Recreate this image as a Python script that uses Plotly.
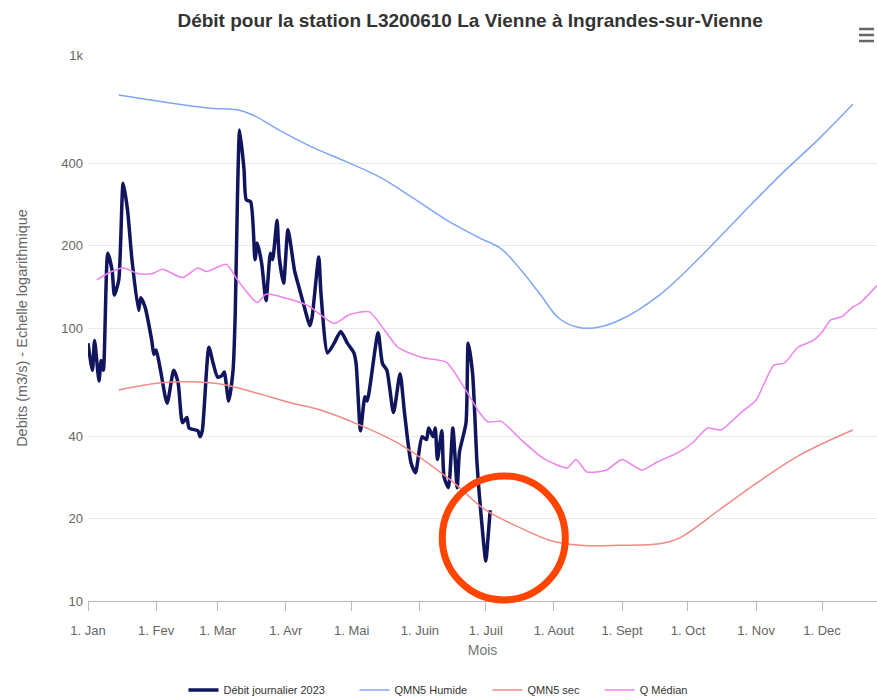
import pandas as pd
import plotly.graph_objects as go

# jour de l'annee (0 = 1er janvier) et debits en m3/s
jours_2023 = [0, 2, 3, 5, 6, 7, 9, 11, 12, 14, 16, 18, 20, 23, 24, 26, 29, 30, 31, 33,
              36, 39, 41, 43, 45, 46, 50, 51, 52, 55, 57, 59, 61, 62, 64, 66, 67, 68, 69, 71,
              72, 74, 76, 77, 79, 81, 83, 84, 86, 87, 89, 91, 94, 96, 98, 101, 102, 105, 106, 109,
              112, 115, 118, 121, 122, 124, 126, 127, 132, 134, 136, 139, 142, 144, 147, 149, 152, 154, 155, 157,
              158, 159, 161, 162, 164, 166, 168, 169, 172, 173, 175, 177, 179, 181, 182, 183]
debit_2023 = [88, 70, 90, 64, 76, 70, 188, 162, 132, 150, 339, 270, 178, 116, 129, 119, 90, 80, 83, 70,
              53, 70, 63, 45, 47, 43, 42, 40, 42, 85, 74, 66, 67, 69, 54, 70, 113, 300, 531, 380,
              295, 290, 178, 205, 173, 126, 188, 178, 248, 182, 146, 229, 162, 141, 123, 102, 110, 182, 134, 81,
              88, 97, 88, 81, 74, 42, 56, 54, 96, 74, 70, 49, 68, 49, 32, 29.5, 40, 39, 43, 40,
              43, 33, 42, 28.5, 26, 43, 26, 35, 45, 88, 68, 32, 20, 14, 17, 21.5]

jours_humide = [14, 54, 68, 75, 87, 102, 118, 133, 148, 163, 178, 188, 197, 206, 214, 222, 230, 242, 260, 278,
                297, 315, 333, 348]
qmn5_humide = [713, 640, 630, 603, 531, 460, 405, 356, 299, 249, 214, 195, 163, 132, 109, 101, 100, 107, 132, 180,
               259, 363, 497, 660]

jours_sec = [14, 33, 48, 62, 75, 93, 106, 124, 142, 165, 181, 197, 210, 224, 242, 260, 269, 287, 305, 324, 348]
qmn5_sec = [59.3, 63, 63.5, 62, 58.3, 53, 50, 44, 37.5, 27.7, 21.5, 18.5, 16.7, 16.0, 16, 16.2, 17, 21.5, 27.3, 34.3,
            42.3]

jours_median = [4, 10, 16, 23, 29, 34, 43, 50, 54, 63, 68, 77, 81, 91, 100, 112, 119, 128, 141, 152,
                163, 172, 178, 182, 188, 197, 207, 218, 222, 227, 236, 243, 252, 259, 268, 275, 282, 288, 297, 304,
                312, 317, 323, 330, 334, 338, 343, 348, 351, 359]
q_median = [150, 160, 166, 158, 158, 164, 153, 166, 161, 171, 150, 124, 133, 128, 121, 104, 112, 114.6, 85, 78,
            75, 59, 49.2, 45.3, 45.5, 39, 33.4, 30.7, 33, 29.7, 30.2, 33, 30.2, 32.3, 34.8, 37.9, 43, 42.3, 48.9, 54.5,
            73, 74.5, 85, 90, 96.7, 107, 110, 119.5, 123, 143]

mois_ticks = ["2023-01-01", "2023-02-01", "2023-03-01", "2023-04-01", "2023-05-01", "2023-06-01",
              "2023-07-01", "2023-08-01", "2023-09-01", "2023-10-01", "2023-11-01", "2023-12-01"]
mois_labels = ["1. Jan", "1. Fev", "1. Mar", "1. Avr", "1. Mai", "1. Juin",
               "1. Juil", "1. Aout", "1. Sept", "1. Oct", "1. Nov", "1. Dec"]
y_ticks = [10, 20, 40, 100, 200, 400, 1000]
y_labels = ["10", "20", "40", "100", "200", "400", "1k"]


def to_dates(jours):
    return pd.Timestamp("2023-01-01") + pd.to_timedelta(jours, unit="D")


def pad(nom, n):
    # espace supplementaire entre les entrees de legende
    return nom + "\u00a0" * n


FONT = "Liberation Sans, Arial, sans-serif"

fig = go.Figure()
fig.add_trace(go.Scatter(x=to_dates(jours_2023), y=debit_2023, name=pad("Débit journalier 2023", 8),
                         mode="lines", line=dict(color="#10155e", width=3.5, shape="spline", smoothing=0.6)))
fig.add_trace(go.Scatter(x=to_dates(jours_humide), y=qmn5_humide, name=pad("QMN5 Humide", 5),
                         mode="lines", line=dict(color="#7fa6f5", width=1.5, shape="spline")))
fig.add_trace(go.Scatter(x=to_dates(jours_sec), y=qmn5_sec, name=pad("QMN5 sec", 5),
                         mode="lines", line=dict(color="#f08a84", width=1.5, shape="spline")))
fig.add_trace(go.Scatter(x=to_dates(jours_median), y=q_median, name="Q Médian",
                         mode="lines", line=dict(color="#ee82ee", width=1.5, shape="spline", smoothing=0.6)))

# cercle rouge autour de l'etiage de juillet
fig.add_shape(type="circle", xref="paper", yref="paper",
              x0=0.449, x1=0.605, y0=0.002, y1=0.229,
              line=dict(color="#ff4500", width=7))

# icone menu (trois barres) en haut a droite
for yb in [1.0476, 1.0366, 1.0256]:
    fig.add_shape(type="line", xref="paper", yref="paper",
                  x0=0.9772, x1=0.9962, y0=yb, y1=yb,
                  line=dict(color="#666666", width=2.5))

fig.update_xaxes(
    type="date", range=["2023-01-01", "2023-12-26"], automargin=False,
    tickvals=mois_ticks, ticktext=mois_labels,
    ticks="outside", ticklen=9, tickcolor="#b8b8b8", tickwidth=1, ticklabelstandoff=8,
    showline=True, linecolor="#b8b8b8", linewidth=1, showgrid=False, zeroline=False,
    tickfont=dict(family=FONT, size=13, color="#666666"),
    title=dict(text="Mois", font=dict(family=FONT, size=14, color="#777777"), standoff=8),
)
fig.update_yaxes(
    type="log", range=[1, 3], automargin=False,
    tickvals=y_ticks, ticktext=y_labels,
    showgrid=True, gridcolor="#eaeaea", gridwidth=1, zeroline=False, showline=False,
    ticks="", ticklabelstandoff=4, tickfont=dict(family=FONT, size=13, color="#666666"),
    title=dict(text="Debits (m3/s) - Echelle logarithmique",
               font=dict(family=FONT, size=14.5, color="#666666"), standoff=30),
)

fig.update_layout(
    width=877, height=697,
    margin=dict(l=88, r=0, t=55, b=96, autoexpand=False),
    paper_bgcolor="white", plot_bgcolor="white",
    title=dict(text="<b>Débit pour la station L3200610 La Vienne à Ingrandes-sur-Vienne</b>",
               x=0.536, xanchor="center", y=0.971, yanchor="middle",
               font=dict(family=FONT, size=19, color="#333333")),
    showlegend=True,
    legend=dict(orientation="h", x=0.121, xanchor="left", y=-0.163, yanchor="middle",
                font=dict(family=FONT, size=11, color="#333333"), itemwidth=30,
                bgcolor="rgba(0,0,0,0)"),
)

# pas de marge de page autour du graphique, pas de barre d'outils
fig.write_html("out.html", config={"displayModeBar": False},
               post_script="document.body.style.margin='0';document.body.style.overflow='hidden';")
